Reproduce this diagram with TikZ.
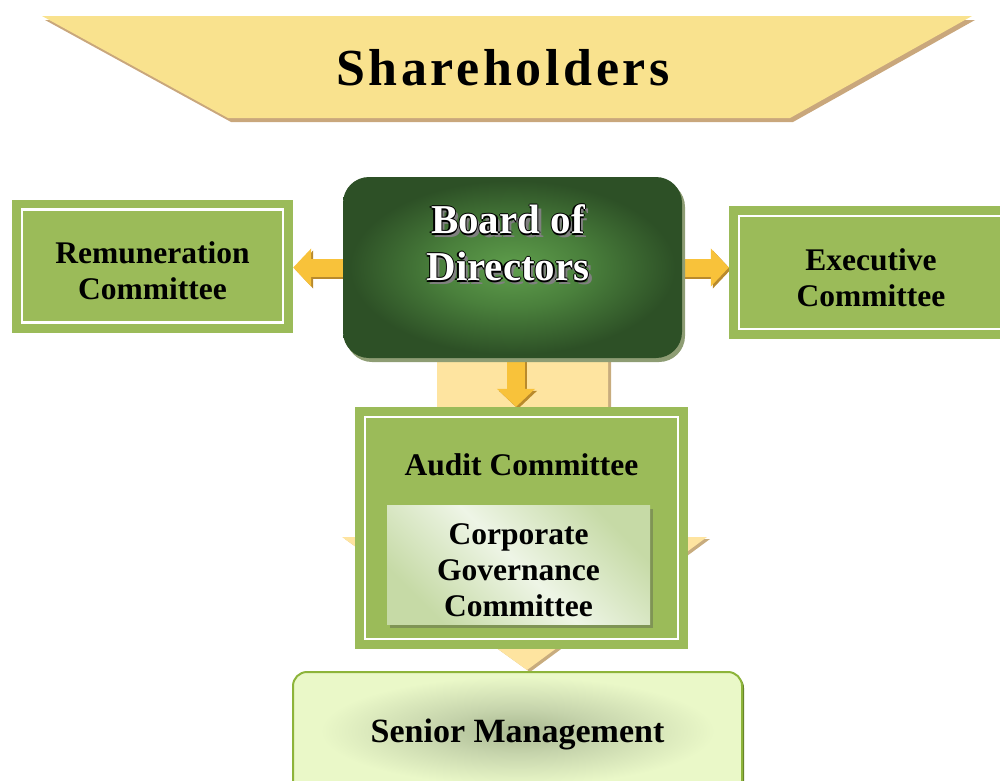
\documentclass[tikz,border=0pt]{standalone}
\usepackage{fontspec}
\setmainfont{Liberation Serif}
\usetikzlibrary{positioning,calc,arrows.meta,shadows}

\definecolor{shfill}{HTML}{F9E28E}
\definecolor{shshadow}{HTML}{C9A77C}
\definecolor{boxgreen}{HTML}{9BBB59}
\definecolor{boarddark}{HTML}{2D5026}
\definecolor{boardmid}{HTML}{4A803C}
\definecolor{boardlight}{HTML}{5F9E4C}
\definecolor{boardshade}{HTML}{8E9D74}
\definecolor{arrowgold}{HTML}{F8C23A}
\definecolor{arrowdark}{HTML}{B98A2C}
\definecolor{palearrow}{HTML}{FEE4A0}
\definecolor{paleshadow}{HTML}{C8AC7E}
\definecolor{cgdark}{HTML}{C6DAA6}
\definecolor{cglight}{HTML}{EEF5E6}
\definecolor{cgshadow}{HTML}{7F9455}
\definecolor{smfill}{HTML}{EAF8C8}
\definecolor{smglow}{HTML}{A9B991}
\definecolor{smmid}{HTML}{C6D4AC}
\definecolor{smborder}{HTML}{8DB43A}

\pgfdeclareradialshading{boardglow}{\pgfpoint{0bp}{0bp}}{color(0bp)=(boardlight); color(11bp)=(boardmid); color(24bp)=(boarddark); color(50bp)=(boarddark)}
\pgfdeclareradialshading{seniorglow}{\pgfpoint{0bp}{0bp}}{color(0bp)=(smglow); color(7bp)=(smmid); color(17bp)=(smfill); color(50bp)=(smfill)}

\pgfdeclarelayer{back}
\pgfdeclarelayer{links}
\pgfsetlayers{back,links,main}

% invisible strut that lowers a centred block of lines
\newcommand\toppad{\rule{0pt}{32pt}}

\tikzset{
  boxfont/.style={font=\fontsize{31.5}{36}\selectfont\bfseries},
  boardfont/.style={font=\fontsize{41}{47}\selectfont\bfseries, align=center},
  greenbox/.style={boxfont, fill=boxgreen, minimum width=281pt, minimum height=133pt, inner sep=0pt, align=center},
  whiteline/.style={draw=white, line width=2.5pt},
  boardbox/.style={shading=boardglow, rounded corners=26pt, minimum width=339pt, minimum height=181pt,
    drop shadow={shadow xshift=3pt, shadow yshift=-4pt, fill=boardshade, opacity=1}},
  corpbox/.style={boxfont, align=center, minimum width=263pt, minimum height=119pt, inner sep=0pt,
    shading=axis, top color=cgdark, bottom color=cgdark, middle color=cglight, shading angle=-45,
    drop shadow={shadow xshift=3pt, shadow yshift=-4pt, fill=cgshadow, opacity=1}},
  seniorbox/.style={font=\fontsize{34}{40}\selectfont\bfseries, fill=smfill, draw=smborder, line width=2pt,
    rounded corners=14pt, minimum width=449pt, minimum height=124pt,
    drop shadow={shadow xshift=2pt, shadow yshift=-2pt, fill=smborder!70!black, opacity=1},
    path picture={\shade[shading=seniorglow] ($(path picture bounding box.center)+(0,-3)$) ellipse (290 and 80);}},
  goldarrow/.style={draw=arrowgold, line width=18pt, -{Triangle[length=18pt, width=37pt]}},
  goldshade/.style={goldarrow, draw=arrowdark}
}

\begin{document}
\begin{tikzpicture}[x=1pt,y=-1pt]
\useasboundingbox (0,0) rectangle (1000,780);
\clip (0,0) rectangle (1000,780);

\begin{pgfonlayer}{back}
% shareholders banner
\fill[shshadow] (45,20) -- (975,20) -- (793,122) -- (231,122) -- cycle;
\fill[shfill] (42,16) -- (972,16) -- (790,118) -- (228,118) -- cycle;
% big pale arrow
\coordinate (bigtip) at (527,670);
\fill[paleshadow] (440,340) -- (611,340) -- (611,539) -- (710,539) -- ($(bigtip)+(3,2)$) -- (345,539) -- (440,539) -- cycle;
\fill[palearrow] (437,340) -- (608,340) -- (608,537) -- (707,537) -- (bigtip) -- (342,537) -- (437,537) -- cycle;
\end{pgfonlayer}

\node (share) at (503,68) [font=\fontsize{52}{60}\selectfont\bfseries\addfontfeature{LetterSpace=7}] {Shareholders};

\node (board) at (512.5,267.5) [boardbox] {};
\node (remun) at (152.5,266) [greenbox] {\toppad Remuneration\\Committee};
\node (exec) at (871,272.5) [greenbox, minimum width=284pt] {\toppad Executive\\Committee};
\node (audit) at (521.5,528) [greenbox, minimum width=333pt, minimum height=242pt] {};
\node (audittitle) [below=43pt of audit.north, boxfont] {Audit Committee};
\node (corp) at (518.5,564.5) [corpbox] {\toppad Corporate\\Governance\\Committee};
\node (senior) at (517.5,734) [seniorbox] {Senior Management};

\foreach \b in {remun,exec,audit}
  \draw[whiteline] ($(\b.north west)+(10,10)$) rectangle ($(\b.south east)+(-10,-10)$);

% board title, outlined white letters
\node (boardshadow) at ($(board.center)+(-1,-21)$) [boardfont, text=black!50] {Board of\\Directors};
\foreach \dx/\dy [count=\i] in {-1.3/0,1.3/0,0/-1.3,0/1.3}
  \node (boardedge\i) at ($(board.center)+(-4.5+\dx,-24.5+\dy)$) [boardfont, text=black] {Board of\\Directors};
\node (boardtext) at ($(board.center)+(-4.5,-24.5)$) [boardfont, text=white] {Board of\\Directors};

\begin{pgfonlayer}{links}
\draw[goldshade] ($(board.west)+(2,2)$) -- ($(remun.east |- board.west)+(2,2)$);
\draw[goldarrow] (board.west) -- (remun.east |- board.west);
\draw[goldshade] ($(board.east)+(2,2)$) -- ($(exec.west |- board.east)+(2,2)$);
\draw[goldarrow] (board.east) -- (exec.west |- board.east);
\draw[goldshade] ($(board.south)+(5.5,0)$) -- ($(board.south |- audit.north)+(5.5,2)$);
\draw[goldarrow] ($(board.south)+(3.5,0)$) -- ($(board.south |- audit.north)+(3.5,0)$);
\end{pgfonlayer}
\end{tikzpicture}
\end{document}
